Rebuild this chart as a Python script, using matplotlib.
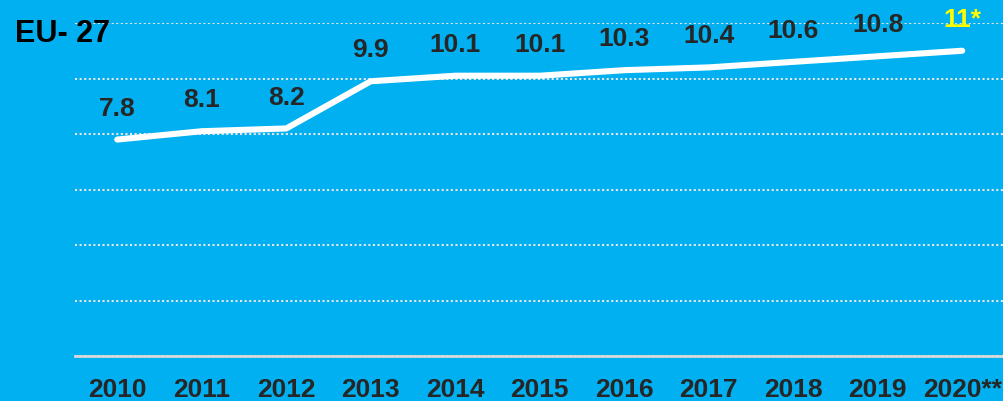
import matplotlib
matplotlib.use("Agg")
import matplotlib.pyplot as plt

# data
years = ["2010", "2011", "2012", "2013", "2014", "2015", "2016", "2017", "2018", "2019", "2020**"]
values = [7.8, 8.1, 8.2, 9.9, 10.1, 10.1, 10.3, 10.4, 10.6, 10.8, 11.0]
value_labels = ["7.8", "8.1", "8.2", "9.9", "10.1", "10.1", "10.3", "10.4", "10.6", "10.8", "11*"]
y_ticks = [0, 2, 4, 6, 8, 10, 12]

BG = "#00B0F0"
DARK = "#262626"

plt.rcParams["font.family"] = ["Liberation Sans", "DejaVu Sans"]

fig = plt.figure(figsize=(10.04, 4.02), dpi=100, facecolor=BG)
ax = fig.add_axes([75 / 1004, 1 - 357 / 402, 929.5 / 1004, 333 / 402])
ax.set_facecolor(BG)

x = list(range(len(years)))
ax.plot(x, values, color="white", linewidth=4.4, solid_capstyle="round", zorder=3)

for xi, v, lab in zip(x, values, value_labels):
    color = "#FFFF00" if lab.endswith("*") else DARK
    ax.annotate(lab, (xi, v), xytext=(0, 23), textcoords="offset points",
                ha="center", va="center", fontsize=19, fontweight="bold", color=color)

ax.set_xlim(-0.5, len(years) - 0.5)
ax.set_ylim(0, 12)
ax.set_yticks(y_ticks)
ax.set_yticklabels([])
ax.set_xticks(x)
ax.set_xticklabels(years, fontsize=19, fontweight="bold", color=DARK)
ax.tick_params(axis="both", length=0)
ax.tick_params(axis="x", pad=15)

# dotted gridlines, solid base line
ax.grid(axis="y", color="#E6E6E6", linestyle=(0, (1, 1.2)), linewidth=1.5)
ax.grid(axis="x", visible=False)
for side in ["top", "right", "left"]:
    ax.spines[side].set_visible(False)
ax.spines["bottom"].set_color("#D9D9D9")
ax.spines["bottom"].set_linewidth(2)

fig.text(15 / 1004, 1 - 34 / 402, "EU- 27", fontsize=22, fontweight="bold",
         color="black", ha="left", va="center")

fig.savefig("out.png", dpi=100, facecolor=BG)
